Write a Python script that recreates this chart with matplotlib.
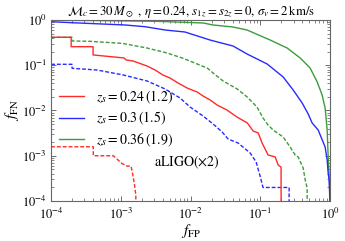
import numpy as np
import matplotlib
matplotlib.use('Agg')
import matplotlib.pyplot as plt
from matplotlib.ticker import LogLocator, NullFormatter

plt.rcParams['font.family'] = ['STIXGeneral', 'DejaVu Serif']
plt.rcParams['mathtext.fontset'] = 'stix'

# redshift labels for the three source populations
labels = [r'$z_s = 0.24\,(1.2)$', r'$z_s = 0.3\,(1.5)$', r'$z_s = 0.36\,(1.9)$']
colors = ['#ff2a2a', '#2a2aff', '#3c9c3c']

# solid curves (upper)
red_fp = [1e-4, 1.94e-4, 1.94e-4, 4.0e-4, 4.0e-4, 1.11e-3, 1.19e-3, 1.5e-3, 2.38e-3, 3.1e-3,
          4.0e-3, 5.1e-3, 6.6e-3, 8.9e-3, 0.0124, 0.0151, 0.019, 0.024, 0.033, 0.046, 0.065,
          0.079, 0.093, 0.106, 0.129, 0.163, 0.18, 0.198, 0.198]
red_fn = [0.415, 0.415, 0.257, 0.257, 0.169, 0.145, 0.131, 0.124, 0.096, 0.0785,
          0.061, 0.052, 0.0405, 0.0314, 0.0256, 0.0209, 0.0171, 0.0132, 0.0103, 0.0072, 0.0053,
          0.0035, 0.0032, 0.0019, 0.00104, 0.00094, 0.000625, 0.00056, 1e-4]

blue_fp = [1e-4, 2.0e-4, 1.15e-3, 2.23e-3, 4.3e-3, 8.3e-3, 0.019, 0.0406, 0.0646, 0.125,
           0.212, 0.295, 0.397, 0.484, 0.552, 0.673, 0.847, 0.906, 0.936, 0.968, 0.99]
blue_fn = [0.917, 0.871, 0.776, 0.711, 0.601, 0.543, 0.361, 0.266, 0.177, 0.1066,
           0.055, 0.0284, 0.01465, 0.00837, 0.0053, 0.00371, 0.00156, 8.05e-4, 4.16e-4, 2.91e-4, 1e-4]

green_fp = [1e-4, 3.62e-4, 3.31e-3, 0.0151, 0.021, 0.0406, 0.0646, 0.138, 0.242, 0.372,
            0.516, 0.652, 0.767, 0.847, 0.906, 0.936, 0.968, 1.0]
green_fn = [0.985, 0.975, 0.936, 0.859, 0.776, 0.70, 0.60, 0.361, 0.240, 0.1446,
            0.0869, 0.0427, 0.022, 0.01136, 0.00371, 9.4e-4, 3.39e-4, 1e-4]

# dashed curves (lower)
red_d_fp = [1e-4, 4.03e-4, 4.03e-4, 7.8e-4, 1.03e-3, 1.22e-3, 1.40e-3, 1.47e-3, 1.56e-3, 1.64e-3, 1.64e-3]
red_d_fn = [1.58e-3, 1.58e-3, 1.0e-3, 1.0e-3, 6.8e-4, 5.9e-4, 5.9e-4, 4.1e-4, 2.46e-4, 1.36e-4, 1e-4]

blue_d_fp = [1e-4, 2.0e-4, 2.0e-4, 4.56e-4, 1.08e-3, 2.38e-3, 4.3e-3, 7.06e-3, 9.84e-3, 0.0151,
             0.021, 0.0283, 0.0345, 0.048, 0.0713, 0.0869, 0.099, 0.109, 0.258, 0.258]
blue_d_fn = [0.105, 0.105, 0.0857, 0.0785, 0.061, 0.0449, 0.0299, 0.0189, 0.0119, 0.00755,
             0.00503, 0.00335, 0.00234, 0.00191, 0.00115, 7.3e-4, 3.56e-4, 1.99e-4, 1.99e-4, 1e-4]

green_d_fp = [1e-4, 2.0e-4, 2.0e-4, 3.62e-4, 1.08e-3, 2.38e-3, 4.6e-3, 7.8e-3, 0.0124, 0.0173,
              0.021, 0.0292, 0.0465, 0.0646, 0.0897, 0.109, 0.129, 0.152, 0.212, 0.267,
              0.315, 0.348, 0.41, 0.439, 0.468, 0.468]
green_d_fn = [0.415, 0.415, 0.344, 0.338, 0.303, 0.240, 0.1866, 0.1425, 0.1066, 0.0869,
              0.0674, 0.0449, 0.0299, 0.0199, 0.0119, 0.00683, 0.00478, 0.00371, 0.00260, 0.00156,
              0.00104, 9.4e-4, 5.36e-4, 2.91e-4, 1.94e-4, 1e-4]

fig = plt.figure(figsize=(3.45, 2.41), dpi=100)
ax = fig.add_axes([0.148, 0.166, 0.809, 0.751])

lw = 1.0
dsh = (2.8, 1.4)
ax.plot(green_d_fp, green_d_fn, '--', color=colors[2], lw=lw, dashes=dsh)
ax.plot(blue_d_fp, blue_d_fn, '--', color=colors[1], lw=lw, dashes=dsh)
ax.plot(red_d_fp, red_d_fn, '--', color=colors[0], lw=lw, dashes=dsh)
ax.plot(green_fp, green_fn, '-', color=colors[2], lw=lw, label=labels[2])
ax.plot(blue_fp, blue_fn, '-', color=colors[1], lw=lw, label=labels[1])
ax.plot(red_fp, red_fn, '-', color=colors[0], lw=lw, label=labels[0])

ax.set_xscale('log')
ax.set_yscale('log')
ax.set_xlim(1e-4, 1)
ax.set_ylim(1e-4, 1)

for a in (ax.xaxis, ax.yaxis):
    a.set_major_locator(LogLocator(base=10, numticks=10))
    a.set_minor_locator(LogLocator(base=10, subs=np.arange(2, 10), numticks=10))
    a.set_minor_formatter(NullFormatter())
ax.tick_params(which='both', direction='in', top=True, right=True, labelsize=9,
               color='#555555')
ax.tick_params(axis='x', pad=4)
ax.tick_params(axis='y', pad=3)
ax.tick_params(which='major', length=3.5, width=0.6)
ax.tick_params(which='minor', length=2, width=0.5)
for s in ax.spines.values():
    s.set_color('#666666')
    s.set_linewidth(0.8)

ax.set_xlabel(r'$f_{\rm FP}$', fontsize=11, labelpad=0)
ax.set_ylabel(r'$f_{\rm FN}$', fontsize=11, labelpad=1)
ax.set_title(r'$\mathcal{M}_c = 30\,M_\odot$ , $\eta = 0.24$, $s_{1z} = s_{2z} = 0$, $\sigma_v = 2\,$km/s',
             fontsize=9.3, pad=3)

h, l = ax.get_legend_handles_labels()
ax.legend(h[::-1], l[::-1], loc='center left', bbox_to_anchor=(0.0, 0.455), frameon=False,
          fontsize=10, handlelength=1.8, handletextpad=0.8, labelspacing=0.3, borderaxespad=0.2)
ax.text(0.37, 0.19, r'aLIGO$(\times 2)$', transform=ax.transAxes, fontsize=10)

fig.savefig('out.png', dpi=100)
